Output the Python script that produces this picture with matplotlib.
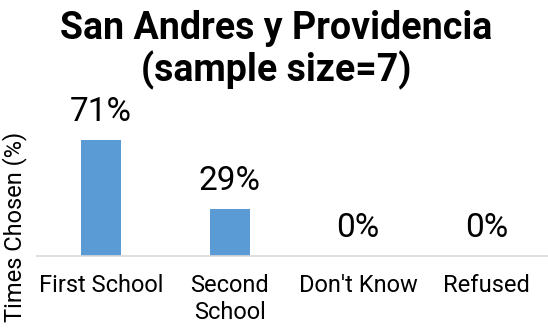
import matplotlib
matplotlib.use('Agg')
import matplotlib.pyplot as plt

plt.rcParams['font.family'] = ['Roboto', 'DejaVu Sans']

categories = ['First School', 'Second\nSchool', "Don't Know", 'Refused']
values = [71, 29, 0, 0]

fig = plt.figure(figsize=(5.48, 3.29), dpi=100)
ax = fig.add_axes([37 / 548, 73 / 329, 511 / 548, 163 / 329])

x = range(len(categories))
bars = ax.bar(x, values, width=0.31, color='#5B9BD5')
for b, v in zip(bars, values):
    ax.annotate(f'{v}%', (b.get_x() + b.get_width() / 2, v), xytext=(0, 8.5),
                textcoords='offset points', ha='center', va='bottom',
                fontsize=24, annotation_clip=False)

ax.set_xlim(-0.5, 3.477)
ax.set_ylim(0, 100)
ax.set_xticks(list(x))
ax.set_xticklabels(categories, fontsize=17, linespacing=1.2)
ax.tick_params(axis='x', length=0, pad=13)
ax.set_yticks([])
for s in ['top', 'right', 'left']:
    ax.spines[s].set_visible(False)
ax.spines['bottom'].set_color('#d9d9d9')
ax.spines['bottom'].set_linewidth(1.2)

fig.text(15 / 548, 1 - 227 / 329, 'Times Chosen (%)', rotation=90, ha='center', va='center', fontsize=17)
fig.text(276 / 548, 1 - 10 / 329, 'San Andres y Providencia\n(sample size=7)', ha='center', va='top',
         fontsize=27, fontweight='bold', linespacing=1.12)

fig.savefig('out.png', dpi=100)
